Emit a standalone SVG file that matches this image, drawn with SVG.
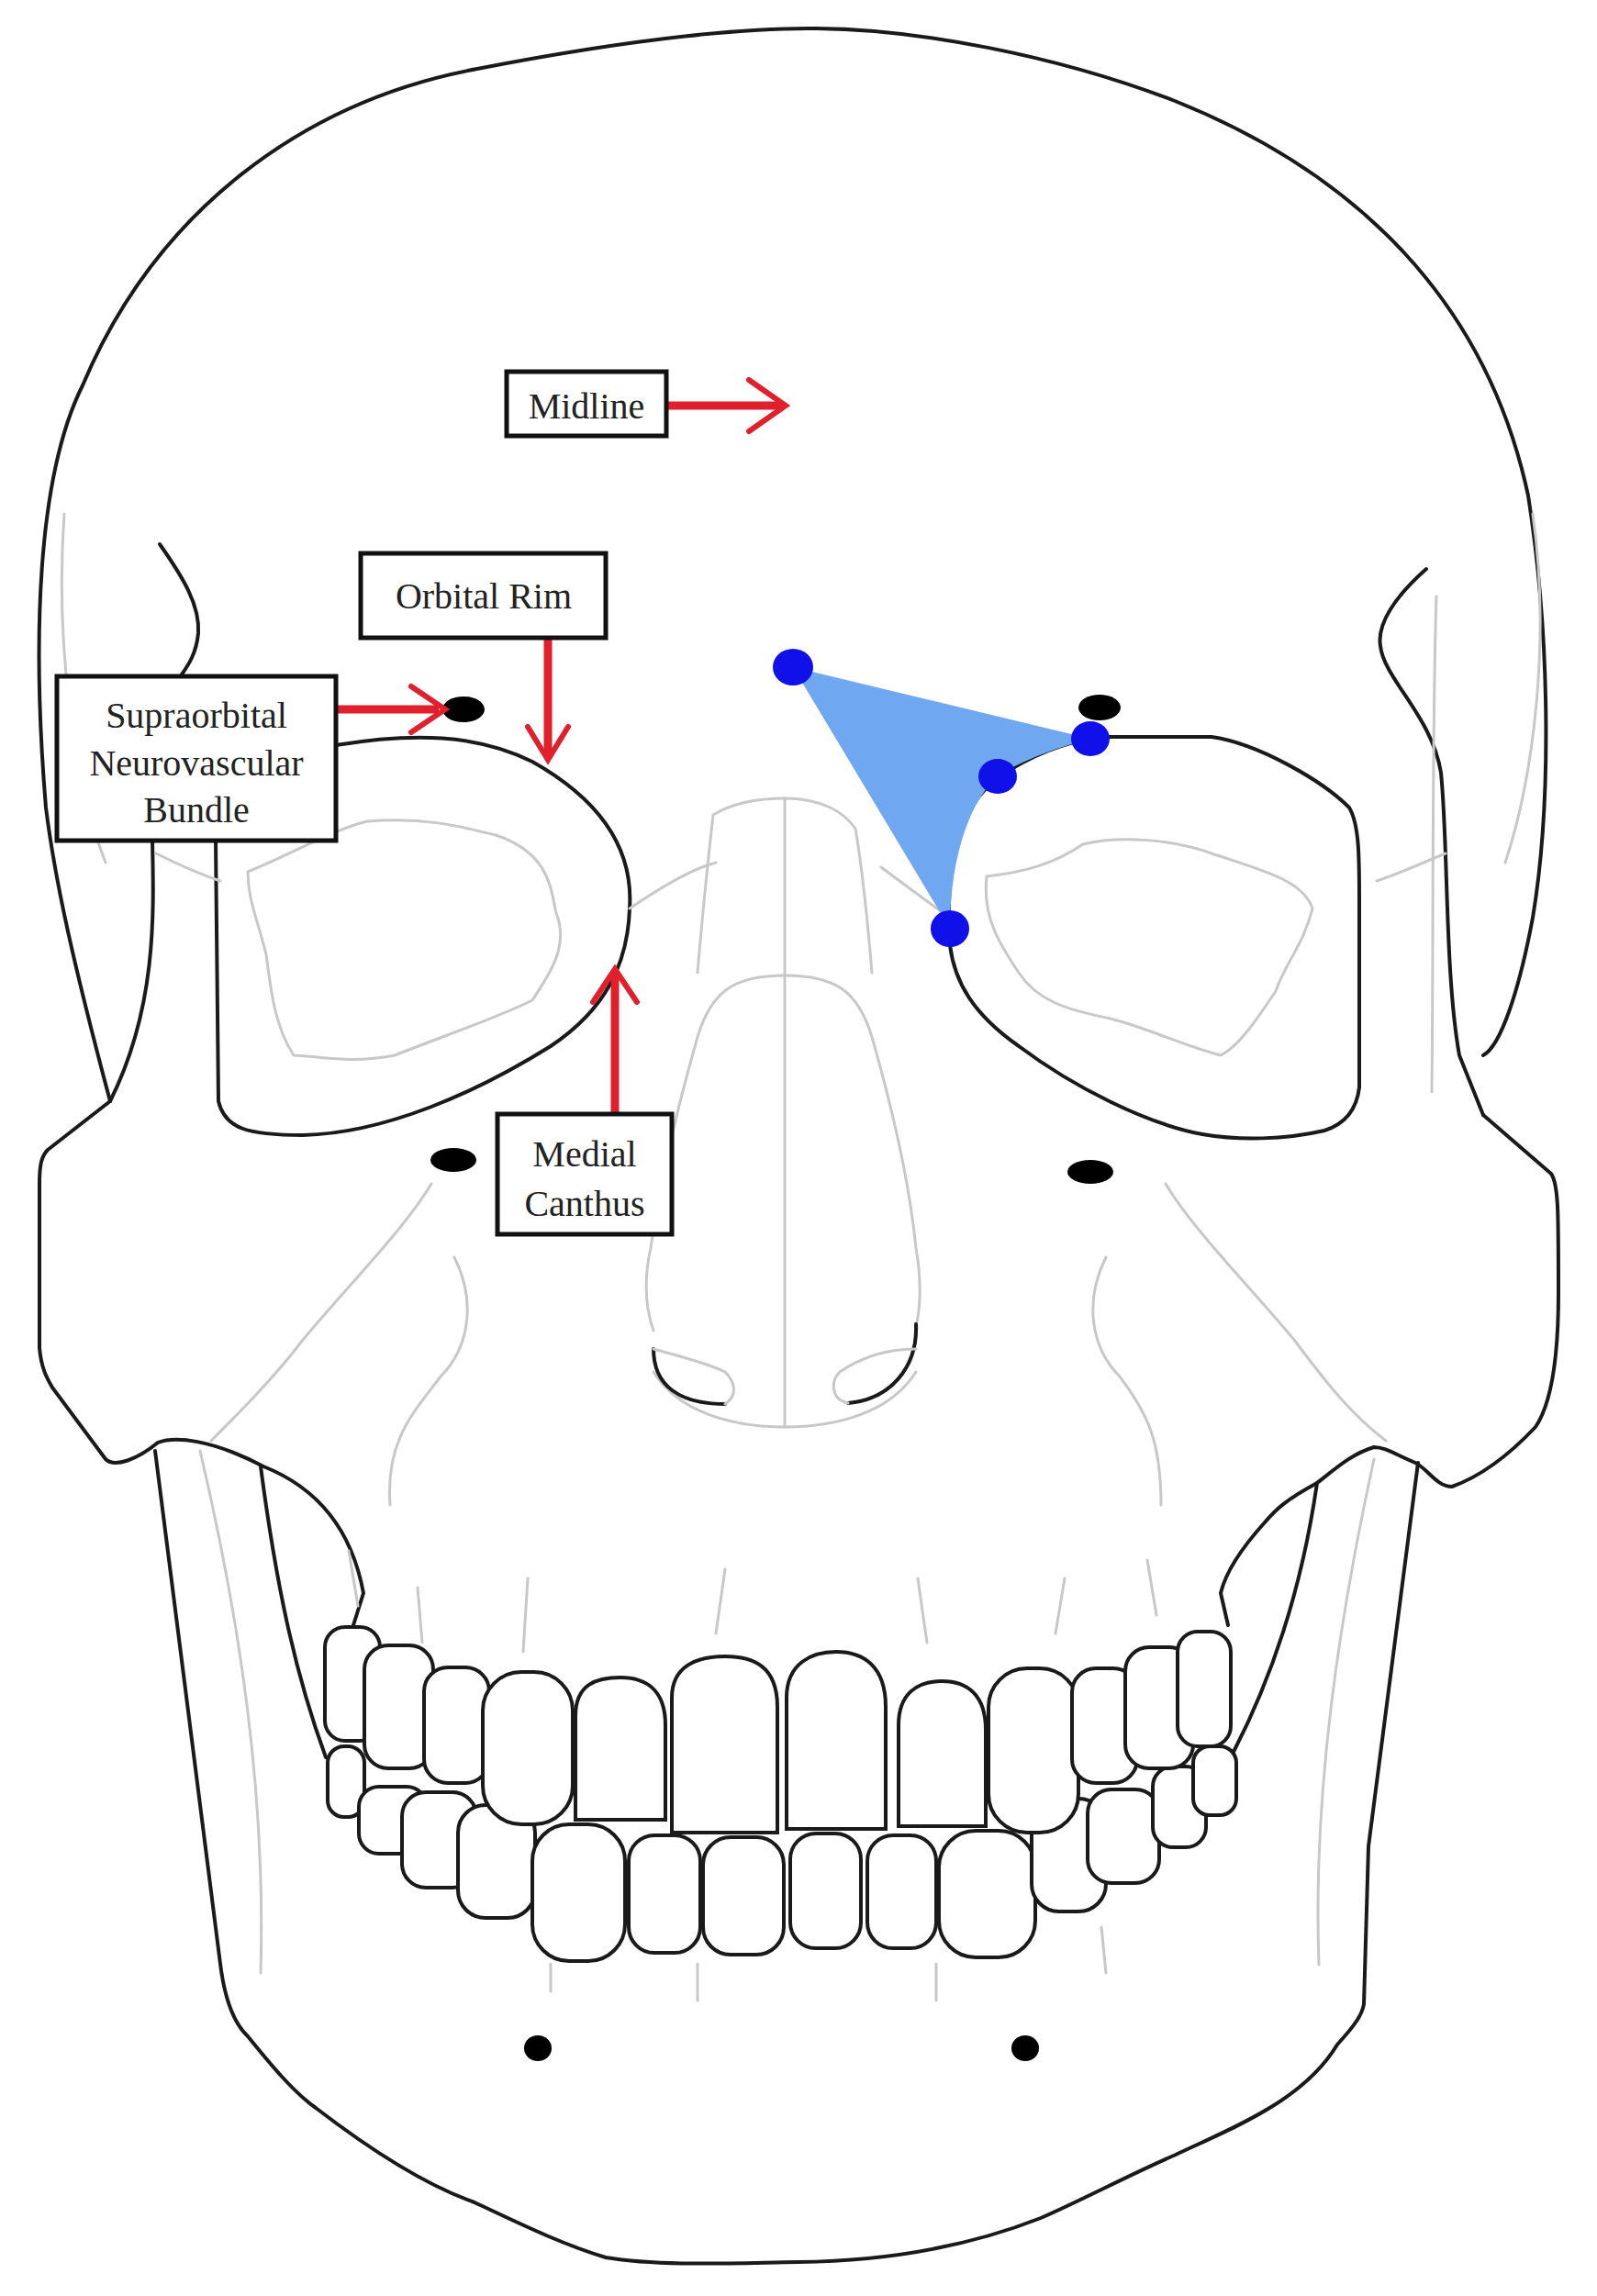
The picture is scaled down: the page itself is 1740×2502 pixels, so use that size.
<svg xmlns="http://www.w3.org/2000/svg" width="1740" height="2502" viewBox="0 0 1740 2502">
<style>
.o{fill:none;stroke:#1a1a1a;stroke-width:4;stroke-linejoin:round;stroke-linecap:round}
.g{fill:none;stroke:#c8c8c8;stroke-width:3;stroke-linecap:round}
.t{fill:#fff;stroke:#1a1a1a;stroke-width:4}
.box{fill:#fff;stroke:#111;stroke-width:5}
.lbl{font-family:"Liberation Serif",serif;font-size:40px;fill:#222;text-anchor:middle}
.ar{fill:none;stroke:#e0202c;stroke-width:9;stroke-linecap:butt}
.ah{fill:none;stroke:#e0202c;stroke-width:6;stroke-linecap:round;stroke-linejoin:miter}
.dot{fill:#000}
.bd{fill:#1010e8}
</style>
<rect width="1740" height="2502" fill="#fff"/>
<g id="skull">
<!-- cranium -->
<path class="o" d="M120,1200 C80,1050 60,960 50,880 C35,700 40,520 90,420 C170,230 330,110 520,75 C700,40 820,30 890,31 C1000,32 1150,60 1280,110 C1480,190 1620,330 1665,540 C1690,700 1690,880 1670,1000 C1655,1080 1635,1140 1616,1150"/>
<!-- temporal lines -->
<path class="o" d="M174,593 C200,630 218,660 216,690 C214,712 205,725 198,735"/>
<path class="o" d="M1554,620 C1520,650 1500,680 1504,704 C1508,740 1560,780 1570,842 C1578,920 1574,1060 1590,1150 L1616,1215"/>
<path class="o" d="M166,916 C168,1000 170,1100 120,1200"/>
<!-- left cheek / zygoma -->
<path class="o" d="M120,1200 L52,1253 C45,1260 43,1270 43,1290 L43,1469 C45,1490 50,1500 57,1512 L115,1590 C125,1600 150,1590 172,1572 C190,1565 230,1568 287,1598 C330,1615 380,1650 396,1736 L385,1771"/>
<!-- right cheek -->
<path class="o" d="M1616,1215 L1690,1279 C1698,1290 1698,1320 1698,1409 C1698,1480 1690,1530 1673,1555 C1640,1590 1610,1610 1582,1620 C1565,1620 1555,1600 1542,1594 C1520,1585 1510,1577 1497,1577 C1470,1585 1450,1605 1435,1616 C1400,1635 1390,1645 1378,1659 C1350,1690 1335,1715 1330,1736 L1338,1771"/>
<!-- mandible -->
<path class="o" d="M169,1581 L240,2140 C245,2180 255,2205 270,2219 C295,2250 320,2280 344,2297 C400,2340 460,2380 517,2400 C560,2420 610,2445 660,2460 C720,2470 800,2466 870,2465 C960,2464 1050,2450 1134,2417 C1180,2397 1230,2370 1281,2348 C1340,2320 1420,2290 1457,2228 C1478,2205 1484,2195 1486,2184 L1491,2012 L1545,1594"/>
<path class="o" d="M284,1598 C300,1720 320,1820 355,1915"/>
<path class="o" d="M1435,1616 C1420,1720 1390,1820 1344,1909"/>
<path class="g" d="M218,1581 C260,1760 290,1950 284,2150"/>
<path class="g" d="M1497,1590 C1460,1760 1430,1950 1437,2141"/>
<!-- orbits -->
<path class="o" d="M372,745 C430,735 480,730 520,740" style="display:none"/>
<path class="o" d="M366,812 C450,798 520,800 580,830 C660,875 690,930 686,990 C684,1050 660,1100 600,1140 C520,1190 420,1235 330,1237 C270,1237 245,1230 238,1200 L235,916"/>
<path class="o" d="M1035,1030 C1030,950 1040,880 1090,846 C1120,825 1160,808 1200,803 L1320,803 C1370,810 1440,850 1470,880 C1482,900 1481,940 1481,1000 L1481,1185 C1478,1210 1465,1225 1443,1232 C1400,1242 1350,1243 1310,1236 C1250,1225 1170,1185 1110,1140 C1060,1105 1040,1070 1035,1030"/>
<!-- orbit inner gray -->
<path class="g" d="M270,950 C320,930 360,905 400,895 C460,890 500,900 540,910 C600,930 600,970 606,995 C620,1030 600,1060 580,1090 C540,1110 480,1130 430,1150 C380,1160 340,1150 320,1150 C300,1120 295,1080 290,1040 C280,1000 270,980 270,950 Z"/>
<path class="g" d="M1075,955 C1120,950 1150,940 1180,920 C1220,910 1280,915 1320,930 C1380,950 1420,960 1430,990 C1420,1030 1400,1050 1390,1080 C1370,1110 1350,1140 1330,1150 C1290,1140 1250,1120 1210,1110 C1160,1100 1130,1090 1110,1060 C1090,1030 1070,1000 1075,955 Z"/>
<path class="g" d="M1565,650 C1560,800 1562,1000 1560,1190"/>
<path class="g" d="M70,560 C60,700 80,850 115,940 M1670,560 C1690,700 1670,850 1640,940"/>
<path class="g" d="M240,960 C210,950 190,940 170,930 M1500,960 C1530,950 1550,940 1575,930 M686,990 C730,960 760,945 780,940 M1035,1000 C1000,975 980,960 960,945"/>
<!-- nasal -->
<path class="g" d="M777,888 C770,950 765,1000 760,1060 M855,870 C815,870 790,880 777,888 M855,870 C895,870 920,885 932,903 C940,950 945,1000 950,1060"/>
<path class="g" d="M855,870 L855,1555"/>
<path class="g" d="M855,1063 C800,1063 775,1080 760,1130 C740,1200 720,1280 709,1360 C700,1400 705,1430 712,1450 M855,1063 C910,1063 935,1080 950,1130 C970,1200 990,1280 998,1360 C1005,1400 1002,1430 998,1445"/>
<path class="g" d="M712,1495 C740,1540 800,1555 855,1555 C910,1555 970,1540 998,1495"/>
<path class="o" d="M712,1470 C712,1510 740,1530 790,1530"/>
<path class="g" d="M790,1530 C805,1520 800,1505 790,1495 C770,1485 740,1478 712,1470"/>
<path class="o" d="M998,1443 C1000,1490 970,1525 924,1529"/>
<path class="g" d="M924,1529 C905,1525 905,1505 915,1495 C940,1478 970,1470 998,1470"/>
<!-- lower face gray -->
<path class="g" d="M470,1290 C440,1340 380,1400 330,1460 C300,1500 260,1540 230,1570 M1270,1290 C1300,1340 1360,1400 1410,1460 C1440,1500 1470,1540 1510,1570"/>
<path class="g" d="M495,1370 C520,1420 510,1470 480,1500 C450,1540 420,1570 425,1640 M1205,1370 C1180,1420 1190,1470 1220,1500 C1250,1540 1265,1570 1265,1640"/>
<!-- foramina -->
<ellipse class="dot" cx="505" cy="773" rx="23" ry="14"/>
<ellipse class="dot" cx="1198" cy="771" rx="23" ry="14"/>
<ellipse class="dot" cx="494" cy="1264" rx="25" ry="13"/>
<ellipse class="dot" cx="1188" cy="1277" rx="25" ry="13"/>
<ellipse class="dot" cx="586" cy="2232" rx="15" ry="14"/>
<ellipse class="dot" cx="1117" cy="2232" rx="15" ry="14"/>
</g>
<g id="teeth">
<!-- lower teeth -->
<rect class="t" x="357" y="1903" width="40" height="77" rx="18"/>
<rect class="t" x="391" y="1947" width="74" height="73" rx="22"/>
<rect class="t" x="438" y="1953" width="81" height="104" rx="26"/>
<rect class="t" x="499" y="1967" width="84" height="123" rx="30"/>
<rect class="t" x="580" y="1988" width="101" height="149" rx="40"/>
<rect class="t" x="685" y="2000" width="78" height="128" rx="28"/>
<rect class="t" x="766" y="2002" width="88" height="128" rx="30"/>
<rect class="t" x="861" y="1998" width="77" height="125" rx="28"/>
<rect class="t" x="945" y="2000" width="75" height="123" rx="28"/>
<rect class="t" x="1023" y="1995" width="105" height="138" rx="40"/>
<rect class="t" x="1124" y="1960" width="81" height="123" rx="30"/>
<rect class="t" x="1185" y="1950" width="78" height="102" rx="26"/>
<rect class="t" x="1256" y="1925" width="58" height="88" rx="22"/>
<rect class="t" x="1300" y="1903" width="47" height="75" rx="18"/>
<!-- upper teeth -->
<rect class="t" x="354" y="1773" width="60" height="124" rx="22"/>
<rect class="t" x="397" y="1793" width="75" height="134" rx="26"/>
<rect class="t" x="462" y="1817" width="71" height="126" rx="26"/>
<rect class="t" x="526" y="1822" width="98" height="166" rx="42"/>
<path class="t" d="M627,1983 L627,1870 C627,1835 650,1828 676,1828 C702,1828 725,1840 725,1880 L725,1983 Z"/>
<path class="t" d="M732,1997 L732,1850 C732,1815 760,1805 790,1805 C820,1805 847,1815 847,1860 L847,1997 Z"/>
<path class="t" d="M857,1993 L857,1850 C857,1812 885,1800 911,1800 C940,1800 965,1815 965,1860 L965,1993 Z"/>
<path class="t" d="M979,1990 L979,1880 C979,1845 1000,1832 1026,1832 C1055,1832 1074,1848 1074,1885 L1074,1990 Z"/>
<rect class="t" x="1077" y="1818" width="98" height="179" rx="42"/>
<rect class="t" x="1168" y="1818" width="71" height="125" rx="26"/>
<rect class="t" x="1226" y="1795" width="74" height="132" rx="26"/>
<rect class="t" x="1283" y="1778" width="58" height="125" rx="22"/>
<path class="g" d="M390,1750 L380,1690 M460,1790 L455,1730 M570,1800 L575,1720 M780,1780 L790,1710 M1010,1790 L1000,1720 M1150,1780 L1160,1720 M1260,1760 L1250,1700 M600,2140 L600,2170 M760,2140 L760,2180 M1020,2140 L1020,2180 M1200,2100 L1205,2150"/>
</g>
<g id="target">
<path d="M864,727 L1188,805 C1150,815 1110,830 1087,846 C1050,880 1035,950 1035,1012 Z" fill="#6fa8f0"/>
<ellipse class="bd" cx="864" cy="727" rx="22" ry="20"/>
<ellipse class="bd" cx="1188" cy="805" rx="21" ry="19"/>
<ellipse class="bd" cx="1087" cy="846" rx="21" ry="19"/>
<ellipse class="bd" cx="1035" cy="1012" rx="21" ry="20"/>
</g>
<g id="connectors">
<path class="ar" d="M726,442 L852,442"/>
<path class="ah" d="M816,414 L856,442 L816,470"/>
<path class="ar" d="M366,773 L478,773"/>
<path class="ah" d="M448,748 L485,773 L448,798"/>
<path class="ar" d="M597,695 L597,822"/>
<path class="ah" d="M575,792 L597,828 L619,792"/>
<path class="ar" d="M670,1214 L670,1062"/>
<path class="ah" d="M646,1092 L670,1056 L694,1092"/>
</g>
<g id="label-midline"><rect class="box" x="552" y="405" width="174" height="70"/><text class="lbl" x="639" y="456">Midline</text></g>
<g id="label-orbital-rim"><rect class="box" x="393" y="603" width="267" height="92"/><text class="lbl" x="527" y="663">Orbital Rim</text></g>
<g id="label-supraorbital"><rect class="box" x="62" y="737" width="304" height="179"/><text class="lbl" x="214" y="793">Supraorbital</text><text class="lbl" x="214" y="845">Neurovascular</text><text class="lbl" x="214" y="896">Bundle</text></g>
<g id="label-medial-canthus"><rect class="box" x="542" y="1214" width="190" height="131"/><text class="lbl" x="637" y="1271">Medial</text><text class="lbl" x="637" y="1325">Canthus</text></g>
</svg>
